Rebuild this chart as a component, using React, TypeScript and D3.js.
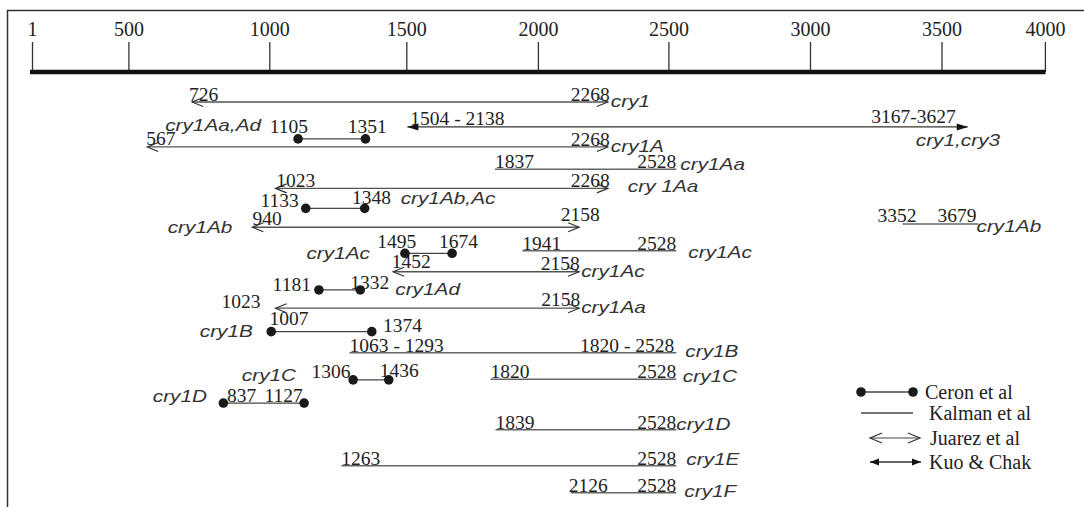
import React from "react";
import * as d3 from "d3";

const W = 1084;
const H = 507;

// position along the gene (bp)
const axisTicks = [1, 500, 1000, 1500, 2000, 2500, 3000, 3500, 4000];

// Ceron et al (dot - dot)
const ceron = [
  { gene: "cry1Aa,Ad", start: 1105, end: 1351 },
  { gene: "cry1Ab,Ac", start: 1133, end: 1348 },
  { gene: "cry1Ac", start: 1495, end: 1674 },
  { gene: "cry1Ad", start: 1181, end: 1332 },
  { gene: "cry1B", start: 1007, end: 1374 },
  { gene: "cry1C", start: 1306, end: 1436 },
  { gene: "cry1D", start: 837, end: 1127 },
];

// Kalman et al (plain line)
const kalman = [
  { gene: "cry1Aa", start: 1837, end: 2528 },
  { gene: "cry1Ab", start: 3352, end: 3679 },
  { gene: "cry1Ac", start: 1941, end: 2528 },
  { gene: "cry1B", start: 1293, end: 2528, startLabel: "1063 - 1293", endLabel: "1820 - 2528" },
  { gene: "cry1C", start: 1820, end: 2528 },
  { gene: "cry1D", start: 1839, end: 2528 },
  { gene: "cry1E", start: 1263, end: 2528 },
  { gene: "cry1F", start: 2126, end: 2528 },
];

// Juarez et al (open arrows)
const juarez = [
  { gene: "cry1", start: 726, end: 2268 },
  { gene: "cry1A", start: 567, end: 2268 },
  { gene: "cry 1Aa", start: 1023, end: 2268 },
  { gene: "cry1Ab", start: 940, end: 2158 },
  { gene: "cry1Ac", start: 1452, end: 2158 },
  { gene: "cry1Aa", start: 1023, end: 2158 },
];

// Kuo & Chak (filled arrows)
const kuo = [
  { gene: "cry1,cry3", start: 1504, end: 3627, startLabel: "1504 - 2138", endLabel: "3167-3627" },
];

const legendItems = ["Ceron et al", "Kalman et al", "Juarez et al", "Kuo & Chak"];

// ---- layout (track + label offsets), kept apart from the data ----
type A = "start" | "middle" | "end";
type Lay = { lane: number; s: [number, number, A]; e: [number, number, A]; g: ["s" | "e", number, number, A] };

const ceronLay: Lay[] = [
  { lane: 1.7, s: [10, -5.6, "end"], e: [-17.7, -5.6, "start"], g: ["s", -37, -8.3, "end"] },
  { lane: 4.9, s: [-7, -1.6, "end"], e: [-12.7, -4, "start"], g: ["e", 36, -4.3, "start"] },
  { lane: 6.97, s: [11.3, -5, "end"], e: [-13, -5, "start"], g: ["s", -35, 6, "end"] },
  { lane: 8.66, s: [-8, 1, "end"], e: [-10, -1, "start"], g: ["e", 35, 5, "start"] },
  { lane: 10.58, s: [-1.7, -6.7, "start"], e: [11.3, 0, "start"], g: ["s", -18.3, 5, "end"] },
  { lane: 12.8, s: [-2.7, -1.7, "end"], e: [-9, -2.7, "start"], g: ["s", -57, 1.5, "end"] },
  { lane: 13.87, s: [3.7, -0.6, "start"], e: [-1.3, -1, "end"], g: ["s", -16.3, -1, "end"] },
];
const kalmanLay: Lay[] = [
  { lane: 3.1, s: [0, -1, "start"], e: [0, -1, "end"], g: ["e", 4, 1, "start"] },
  { lane: 5.62, s: [14, -2, "end"], e: [-2, -2, "end"], g: ["e", -2, 8, "start"] },
  { lane: 6.85, s: [0, -1, "start"], e: [0, -1, "end"], g: ["e", 12, 7, "start"] },
  { lane: 11.55, s: [0, -1, "start"], e: [-2, -1, "end"], g: ["e", 9, 4, "start"] },
  { lane: 12.77, s: [0, -1, "start"], e: [0, -1, "end"], g: ["e", 6.5, 2.5, "start"] },
  { lane: 15.1, s: [0, -1, "start"], e: [0, -1, "end"], g: ["e", 0, 0, "start"] },
  { lane: 16.76, s: [0, -1, "start"], e: [0, -1, "end"], g: ["e", 10, -1, "start"] },
  { lane: 18, s: [-2, -1, "start"], e: [0, -1, "end"], g: ["e", 8, 4, "start"] },
];
const juarezLay: Lay[] = [
  { lane: 0, s: [-3, -1, "start"], e: [2, -1, "end"], g: ["e", 3, 5, "start"] },
  { lane: 2.07, s: [-1, -1.7, "start"], e: [2, -1, "end"], g: ["e", 3, 5, "start"] },
  { lane: 3.98, s: [0.6, -1.6, "start"], e: [2, -1, "end"], g: ["e", 20, 4, "start"] },
  { lane: 5.77, s: [0, -2.3, "start"], e: [1, -6, "middle"], g: ["s", -20, 6, "end"] },
  { lane: 7.82, s: [-1.3, -3.4, "start"], e: [0.7, -2, "end"], g: ["e", 2, 5, "start"] },
  { lane: 9.5, s: [-15, -0.6, "end"], e: [1, -2, "end"], g: ["e", 2, 5, "start"] },
];
const kuoLay: Lay[] = [
  { lane: 1.15, s: [3, -2.4, "start"], e: [-12, -4, "end"], g: ["e", -52, 19, "start"] },
];

const tickX = [32, 128.4, 269.3, 406.3, 537.9, 668.4, 810, 941.5, 1044.9];
const x = d3.scaleLinear().domain(axisTicks).range(tickX);
const y = d3.scaleLinear().domain([0, 18]).range([102, 492.7]);

const SERIF = "'Liberation Serif', 'Times New Roman', serif";
const SANS = "'Liberation Sans', Arial, sans-serif";
const INK = "#222";
const LINE = "#555";

const openHead = (tx: number, ty: number, dir: number, len = 11, h = 4.5) =>
  `M${tx - dir * len},${ty - h}L${tx},${ty}L${tx - dir * len},${ty + h}`;
const fillHead = (tx: number, ty: number, dir: number, len = 11, h = 3.5) =>
  `M${tx},${ty}L${tx - dir * len},${ty - h}L${tx - dir * len},${ty + h}Z`;

function Num({ px, py, anchor, children, size = 19.5 }: any) {
  return (
    <text x={px} y={py} textAnchor={anchor} fontFamily={SERIF} fontSize={size} fill={INK}>
      {children}
    </text>
  );
}

function Gene({ px, py, anchor, children }: any) {
  return (
    <text
      transform={`translate(${px},${py}) scale(1.3,1)`}
      textAnchor={anchor}
      fontFamily={SANS}
      fontStyle="italic"
      fontSize={16}
      fill="#333"
    >
      {children}
    </text>
  );
}

function Labels({ d, lay, sx, ex, yy }: any) {
  const gx = lay.g[0] === "s" ? sx : ex;
  return (
    <g>
      <Num px={sx + lay.s[0]} py={yy + lay.s[1]} anchor={lay.s[2]}>
        {d.startLabel ?? d.start}
      </Num>
      <Num px={ex + lay.e[0]} py={yy + lay.e[1]} anchor={lay.e[2]}>
        {d.endLabel ?? d.end}
      </Num>
      <Gene px={gx + lay.g[1]} py={yy + lay.g[2]} anchor={lay.g[3]}>
        {d.gene}
      </Gene>
    </g>
  );
}

export default function App() {
  const barY = 72;
  const axisRef = React.useRef<SVGGElement>(null);

  React.useEffect(() => {
    const g = d3.select(axisRef.current);
    g.selectAll("*").remove();
    g.call(d3.axisTop(x).tickValues(axisTicks).tickSize(30).tickPadding(6).tickFormat(d3.format("d")) as any);
    g.select(".domain").remove();
    g.selectAll(".tick line").attr("stroke", "#333").attr("stroke-width", 1.3);
    g.selectAll(".tick text")
      .attr("font-family", SERIF)
      .attr("font-size", 20)
      .attr("fill", INK);
  }, []);

  const legX0 = 861;
  const legX1 = 913;
  const legY = [392, 413, 438, 462];

  return (
    <svg width={W} height={H} style={{ position: "absolute", left: 0, top: 0, background: "#fff" }}>
      {/* frame */}
      <path d={`M7.5,${H}L7.5,10.5L${W},10.5`} fill="none" stroke="#333" strokeWidth={1.5} />

      {/* scale bar */}
      <g ref={axisRef} transform={`translate(0,${barY})`} />
      <line x1={x(1) - 2} x2={x(4000) + 0.6} y1={barY} y2={barY} stroke="#111" strokeWidth={4.5} />

      {/* Juarez et al */}
      {juarez.map((d, i) => {
        const lay = juarezLay[i];
        const sx = x(d.start), ex = x(d.end), yy = y(lay.lane);
        return (
          <g key={"j" + i}>
            <line x1={sx} x2={ex} y1={yy} y2={yy} stroke={LINE} strokeWidth={1.3} />
            <path d={openHead(sx, yy, -1)} fill="none" stroke="#333" strokeWidth={1.2} />
            <path d={openHead(ex, yy, 1)} fill="none" stroke="#333" strokeWidth={1.2} />
            <Labels d={d} lay={lay} sx={sx} ex={ex} yy={yy} />
          </g>
        );
      })}

      {/* Kuo & Chak */}
      {kuo.map((d, i) => {
        const lay = kuoLay[i];
        const sx = x(d.start), ex = x(d.end), yy = y(lay.lane);
        return (
          <g key={"k" + i}>
            <line x1={sx} x2={ex} y1={yy} y2={yy} stroke="#333" strokeWidth={1.2} />
            <path d={fillHead(sx, yy, -1)} fill="#111" />
            <path d={fillHead(ex, yy, 1)} fill="#111" />
            <Labels d={d} lay={lay} sx={sx} ex={ex} yy={yy} />
          </g>
        );
      })}

      {/* Kalman et al */}
      {kalman.map((d, i) => {
        const lay = kalmanLay[i];
        const sx = x(d.start), ex = x(d.end), yy = y(lay.lane);
        return (
          <g key={"m" + i}>
            <line x1={sx} x2={ex} y1={yy} y2={yy} stroke="#666" strokeWidth={1.5} />
            <Labels d={d} lay={lay} sx={sx} ex={ex} yy={yy} />
          </g>
        );
      })}

      {/* Ceron et al */}
      {ceron.map((d, i) => {
        const lay = ceronLay[i];
        const sx = x(d.start), ex = x(d.end), yy = y(lay.lane);
        return (
          <g key={"c" + i}>
            <line x1={sx} x2={ex} y1={yy} y2={yy} stroke="#444" strokeWidth={1.3} />
            <circle cx={sx} cy={yy} r={4.8} fill="#1a1a1a" />
            <circle cx={ex} cy={yy} r={4.8} fill="#1a1a1a" />
            <Labels d={d} lay={lay} sx={sx} ex={ex} yy={yy} />
          </g>
        );
      })}

      {/* legend */}
      <g>
        <line x1={legX0} x2={legX1} y1={legY[0]} y2={legY[0]} stroke="#444" strokeWidth={1.3} />
        <circle cx={legX0} cy={legY[0]} r={4.8} fill="#1a1a1a" />
        <circle cx={legX1} cy={legY[0]} r={4.8} fill="#1a1a1a" />
        <line x1={legX0} x2={legX1} y1={legY[1]} y2={legY[1]} stroke="#444" strokeWidth={1.3} />
        <line x1={870} x2={920} y1={legY[2]} y2={legY[2]} stroke="#444" strokeWidth={1.2} />
        <path d={openHead(870, legY[2], -1, 12, 5)} fill="none" stroke="#333" strokeWidth={1.2} />
        <path d={openHead(920, legY[2], 1, 12, 5)} fill="none" stroke="#333" strokeWidth={1.2} />
        <line x1={870} x2={921} y1={legY[3]} y2={legY[3]} stroke="#333" strokeWidth={1.3} />
        <path d={fillHead(870, legY[3], -1, 9, 3.5)} fill="#111" />
        <path d={fillHead(921, legY[3], 1, 9, 3.5)} fill="#111" />
        {legendItems.map((t, i) => (
          <Num key={t} px={[925, 929, 930, 929][i]} py={legY[i] + 6.5} anchor="start" size={20}>
            {t}
          </Num>
        ))}
      </g>
    </svg>
  );
}
